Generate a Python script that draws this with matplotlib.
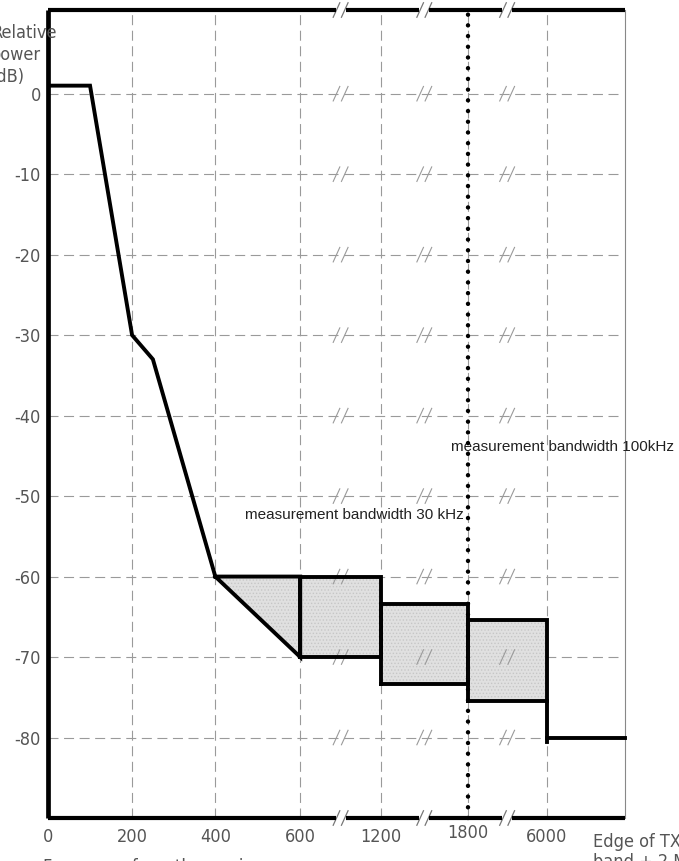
import numpy as np
import matplotlib
matplotlib.use("Agg")
import matplotlib.pyplot as plt

# broken frequency axis (kHz from carrier); last entry is the band edge
freq_ticks = [0, 200, 400, 600, 1200, 1800, 6000, 7000]
tick_labels = ["0", "200", "400", "600", "1200", "1800", "6000"]
axis_pos = [0, 1.02, 2.03, 3.06, 4.04, 5.09, 6.05, 7.0]
edge_freq = 7000

db_ticks = [0, -10, -20, -30, -40, -50, -60, -70, -80]

# sloped part of the mask
mask_f = [0, 100, 200, 250, 400]
mask_db = [1, 1, -30, -33, -60]

# triangle between 400 and 600
tri_f = [400, 600, 600]
tri_db = [-60, -60, -70]

# boxes
band_lo = [600, 1200, 1800]
band_hi = [1200, 1800, 6000]
band_top = [-60, -63.4, -65.4]
band_bot = [-70, -73.4, -75.4]
floor_db = -80

dotted_f = 1800

TICK_FONT = ["Liberation Sans Narrow", "DejaVu Sans"]
NOTE_FONT = ["Liberation Sans", "DejaVu Sans"]
plt.rcParams["hatch.linewidth"] = 0.6


def fx(f):
    return np.interp(f, freq_ticks, axis_pos)


fig = plt.figure(figsize=(6.79, 8.61), dpi=100)
ax = fig.add_axes([48 / 679, 43 / 861, 577 / 679, 808 / 861])
ymin, ymax = -90, 10.4
ax.set_xlim(0, 7)
ax.set_ylim(ymin, ymax)
for s in ax.spines.values():
    s.set_visible(False)

grid_kw = dict(color="#9a9a9a", lw=0.8, dashes=(9, 5), zorder=1)
for d in db_ticks:
    ax.plot([0, 6.96], [d, d], **grid_kw)
for p in axis_pos[1:7]:
    ax.plot([p, p], [ymin, ymax], **grid_kw)

# break positions between the compressed ticks
breaks = [(axis_pos[i] + axis_pos[i + 1]) / 2 for i in (3, 4, 5)]


def slashes(xb, y, color, lw):
    for off in (-0.05, 0.05):
        ax.plot([xb + off - 0.04, xb + off + 0.04], [y - 0.9, y + 0.9],
                color=color, lw=lw, zorder=3, clip_on=False)


for d in db_ticks:
    for b in breaks:
        slashes(b, d, "#9a9a9a", 0.8)

# frame: thick left, broken top and bottom, thin right
ax.plot([0, 0], [ymin, ymax], color="k", lw=3.4, clip_on=False,
        solid_capstyle="butt", zorder=5)
ax.plot([7, 7], [ymin, ymax], color="#888888", lw=0.8, clip_on=False,
        zorder=2)
edges = [0] + [v for b in breaks for v in (b - 0.06, b + 0.06)] + [7]
for y in (ymin, ymax):
    for a, b in zip(edges[0::2], edges[1::2]):
        ax.plot([a, b], [y, y], color="k", lw=3.0, clip_on=False,
                solid_capstyle="butt", zorder=5)
    for b in breaks:
        slashes(b, y, "#777777", 0.9)

# shaded areas
fill_kw = dict(facecolor="#e0e0e0", edgecolor="#c6c6c6", hatch=".....",
               lw=0, zorder=2)
ax.fill(fx(tri_f), tri_db, **fill_kw)
for lo, hi, t, b in zip(band_lo, band_hi, band_top, band_bot):
    ax.fill(fx([lo, hi, hi, lo]), [t, t, b, b], **fill_kw)

line_kw = dict(color="k", lw=2.8, zorder=4, solid_joinstyle="miter")
ax.plot(fx(mask_f), mask_db, **line_kw)
ax.plot(fx(tri_f + tri_f[:1]), tri_db + tri_db[:1], **line_kw)
for lo, hi, t, b in zip(band_lo, band_hi, band_top, band_bot):
    ax.plot(fx([lo, lo, hi, hi, lo]), [b, t, t, b, b], **line_kw)
ax.plot(fx([6000, 6000, edge_freq]), [band_bot[-1], floor_db, floor_db],
        clip_on=False, **line_kw)
ax.plot(fx([6000, 6000]), [floor_db, floor_db - 0.6], **line_kw)

# dotted marker at 1800 kHz
ax.plot([fx(dotted_f)] * 2, [ymin, ymax], color="k", lw=3.2,
        dashes=(0.01, 2.4), dash_capstyle="round", zorder=6, clip_on=False)

ax.set_xticks(axis_pos[:7], tick_labels)
ax.set_yticks(db_ticks, [str(d) if d == 0 else "-%d" % -d for d in db_ticks])
ax.tick_params(length=0, labelcolor="#555555", labelsize=13)
ax.tick_params(axis="x", pad=7)
ax.tick_params(axis="y", pad=5)
for lab in ax.get_xticklabels() + ax.get_yticklabels():
    lab.set_family(TICK_FONT)
    lab.set_fontstretch("condensed")
ax.get_xticklabels()[5].set_y(0.004)

tf = dict(family=TICK_FONT, stretch="condensed", color="#555555",
          fontsize=13)
ax.text(6.61, -91.9, "Edge of TX\nband + 2 MHz", ha="left", va="top",
        linespacing=1.15, clip_on=False, **tf)
fig.text(-9 / 679, 1 - 55 / 861, "Relative\npower\n(dB)", ha="left",
         va="center", linespacing=1.25, **tf)
fig.text(43 / 679, 1 - 867 / 861, "Frequency from the carrier", ha="left",
         va="center", **tf)

note_kw = dict(family=NOTE_FONT, fontsize=11, color="#222222", zorder=5)
ax.text(4.89, -43.85, "measurement bandwidth 100kHz", ha="left",
        va="center", **note_kw)
ax.text(2.39, -52.4, "measurement bandwidth 30 kHz", ha="left",
        va="center", **note_kw)

fig.savefig("out.png", dpi=100)
